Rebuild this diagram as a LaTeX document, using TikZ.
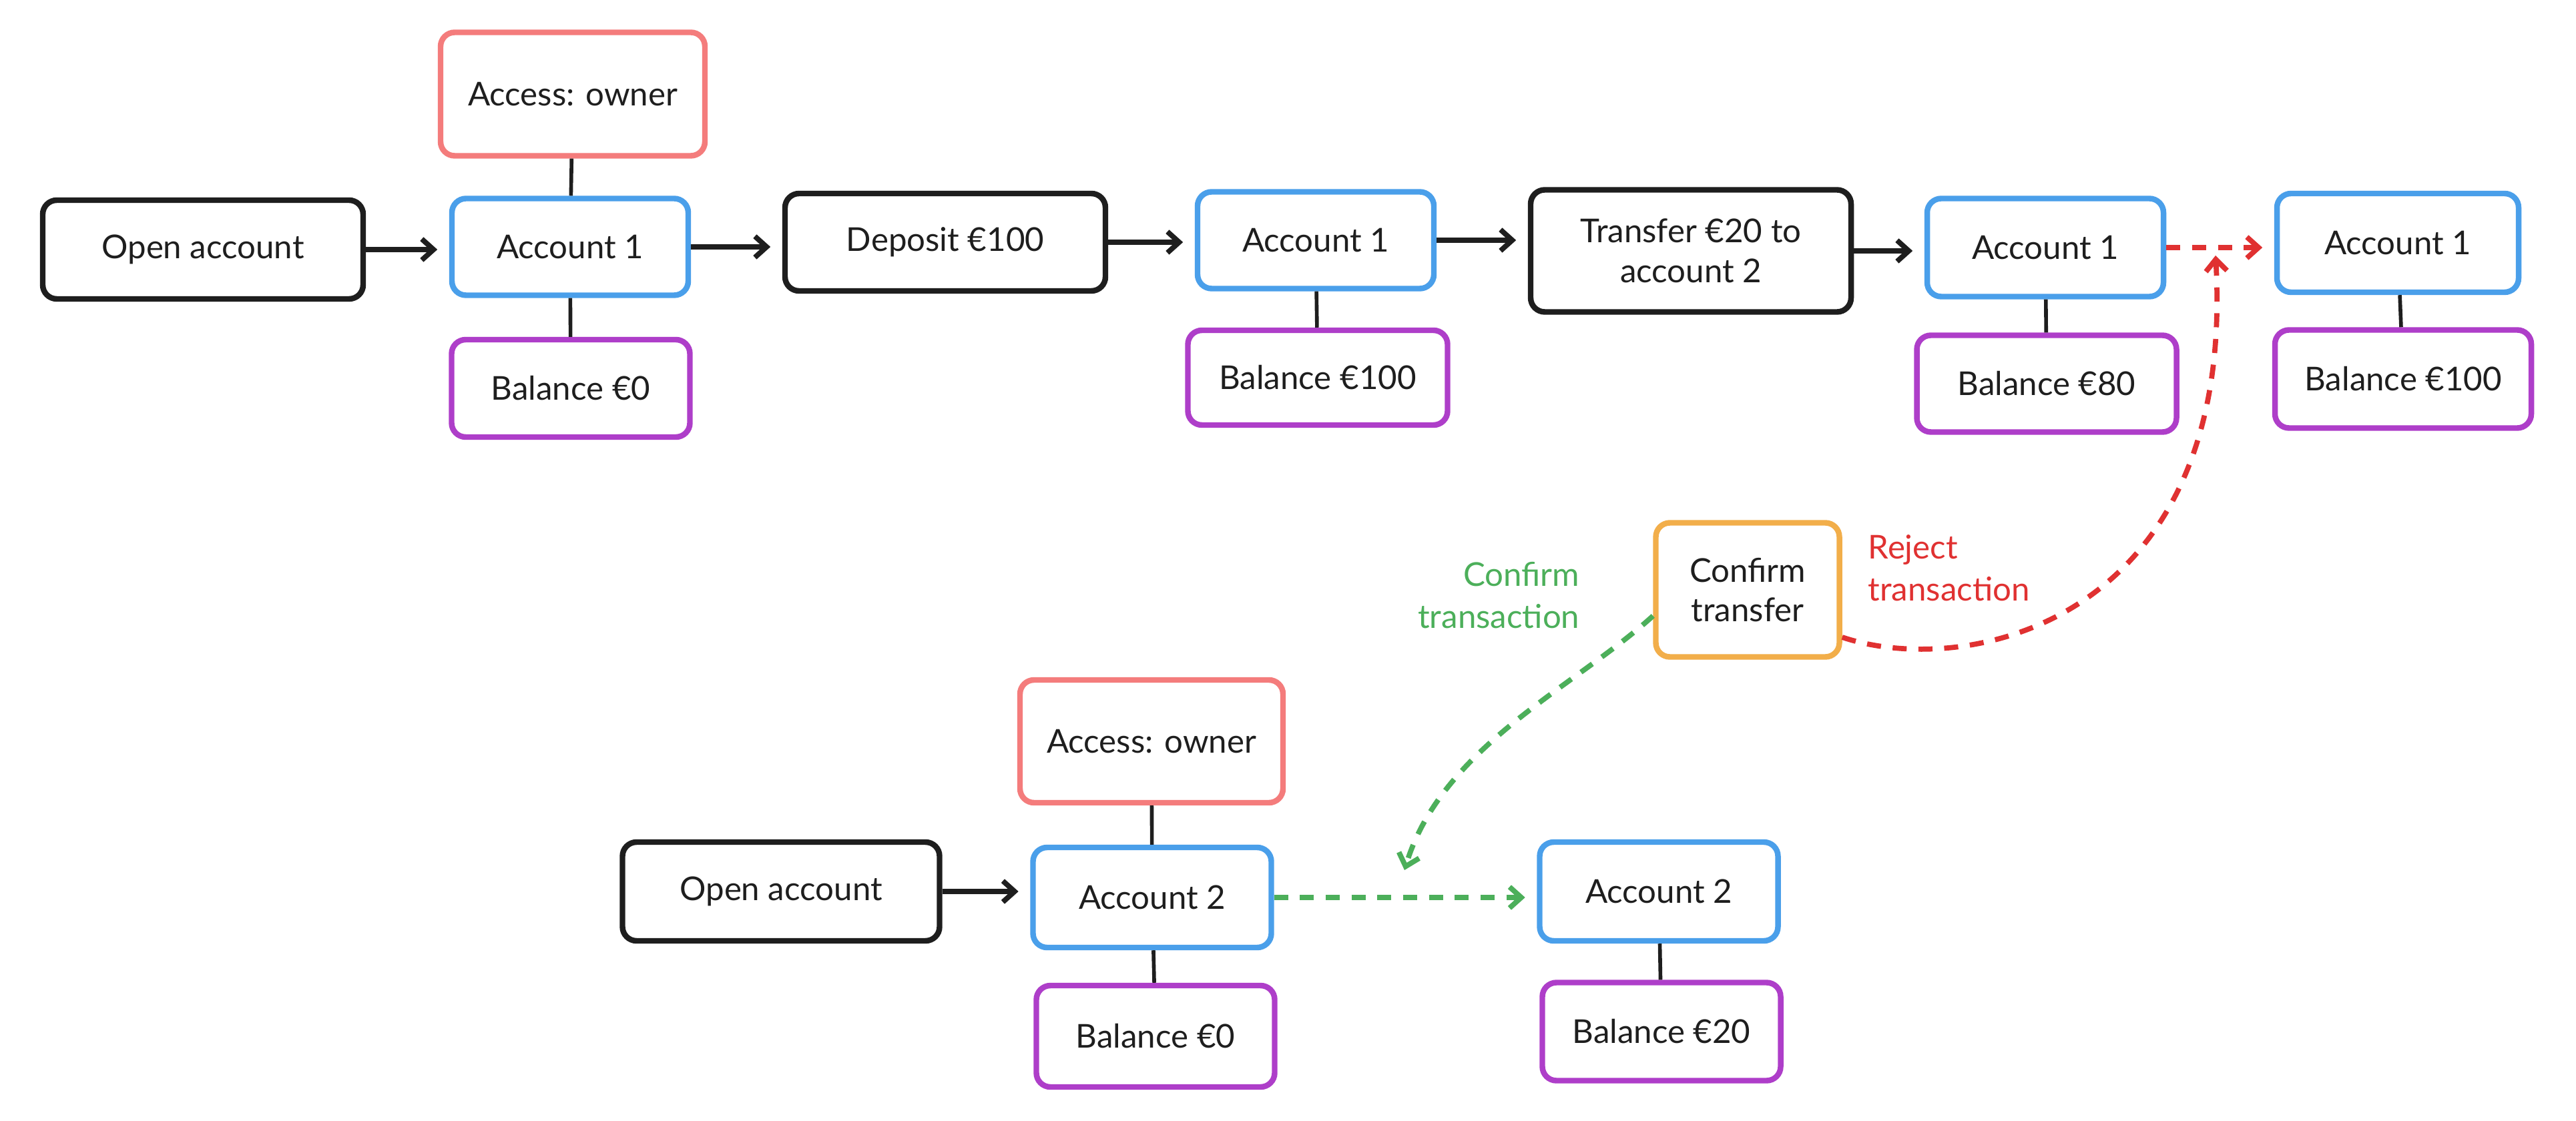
\documentclass[tikz,border=0pt]{standalone}
\usepackage{fontspec}
\setmainfont{Lato}
\usetikzlibrary{arrows.meta,calc}
\definecolor{ink}{HTML}{1E1E1E}
\definecolor{bblue}{HTML}{4A9FEA}
\definecolor{bred}{HTML}{F47C7C}
\definecolor{bpurple}{HTML}{AE3EC9}
\definecolor{borange}{HTML}{F2AE4A}
\definecolor{lgreen}{HTML}{4CAF5A}
\definecolor{lred}{HTML}{E03131}
\tikzset{
  box/.style={draw, line width=2.4pt, rounded corners=6pt, fill=white, text=ink,
    align=center, inner sep=2pt, font=\fontsize{14}{17}\selectfont},
  blackbox/.style={box, draw=ink},
  bluebox/.style={box, draw=bblue},
  redbox/.style={box, draw=bred},
  purplebox/.style={box, draw=bpurple},
  orangebox/.style={box, draw=borange},
  arr/.style={draw=ink, line width=2.2pt, -{Straight Barb[length=5pt,width=9pt]}, shorten >=5pt},
  link/.style={draw=ink, line width=1.6pt},
  greenarr/.style={draw=lgreen, line width=2.2pt, dash pattern=on 6pt off 5pt,
    -{Straight Barb[length=5pt,width=9pt]}},
  redarr/.style={draw=lred, line width=2.2pt, dash pattern=on 6pt off 5pt,
    -{Straight Barb[length=5pt,width=9pt]}},
  lbl/.style={font=\fontsize{14}{18}\selectfont, inner sep=0pt}
}
\begin{document}
\begin{tikzpicture}[x=1cm,y=1cm]
\useasboundingbox (0,0) rectangle (38.59,16.79);
\fill[white] (0,0) rectangle (38.59,16.79);

% top row
\node[blackbox, minimum width=4.80cm, minimum height=1.48cm] (open1) at (3.04,13.05) {Open account};
\node[redbox, minimum width=3.96cm, minimum height=1.85cm] (own1) at (8.58,15.38) {Access: owner};
\node[bluebox, minimum width=3.54cm, minimum height=1.45cm] (a1) at (8.54,13.09) {Account 1};
\node[purplebox, minimum width=3.57cm, minimum height=1.46cm] (b1) at (8.55,10.97) {Balance €0};
\node[blackbox, minimum width=4.80cm, minimum height=1.46cm] (dep) at (14.16,13.16) {Deposit €100};
\node[bluebox, minimum width=3.54cm, minimum height=1.45cm] (a2) at (19.71,13.19) {Account 1};
\node[purplebox, minimum width=3.89cm, minimum height=1.42cm] (b2) at (19.74,11.13) {Balance €100};
\node[blackbox, minimum width=4.80cm, minimum height=1.83cm] (tr) at (25.33,13.03) {Transfer €20 to\\account 2};
\node[bluebox, minimum width=3.54cm, minimum height=1.47cm] (a3) at (30.64,13.08) {Account 1};
\node[purplebox, minimum width=3.89cm, minimum height=1.45cm] (b3) at (30.66,11.04) {Balance €80};
\node[bluebox, minimum width=3.62cm, minimum height=1.48cm] (a4) at (35.92,13.15) {Account 1};
\node[purplebox, minimum width=3.84cm, minimum height=1.47cm] (b4) at (36.00,11.11) {Balance €100};

% decision
\node[orangebox, minimum width=2.75cm, minimum height=2.01cm] (ct) at (26.18,7.95) {Confirm\\transfer};
\node[lbl, text=lgreen, anchor=east, align=right] (lconf) at (23.67,7.87) {Confirm\\transaction};
\node[lbl, text=lred, anchor=west, align=left] (lrej) at (27.98,8.28) {Reject\\transaction};

% bottom row
\node[blackbox, minimum width=4.75cm, minimum height=1.48cm] (open2) at (11.70,3.43) {Open account};
\node[redbox, minimum width=3.94cm, minimum height=1.84cm] (own2) at (17.25,5.68) {Access: owner};
\node[bluebox, minimum width=3.57cm, minimum height=1.50cm] (c1) at (17.26,3.34) {Account 2};
\node[purplebox, minimum width=3.57cm, minimum height=1.52cm] (d1) at (17.31,1.26) {Balance €0};
\node[bluebox, minimum width=3.57cm, minimum height=1.48cm] (c2) at (24.85,3.43) {Account 2};
\node[purplebox, minimum width=3.57cm, minimum height=1.47cm] (d2) at (24.89,1.33) {Balance €20};

\coordinate (rejtip) at (33.19,12.96);
\coordinate (conftip) at (21.04,3.75);

% links
\draw[link] (own1) -- (a1);
\draw[link] (a1) -- (b1);
\draw[link] (a2) -- (b2);
\draw[link] (a3) -- (b3);
\draw[link] (a4) -- (b4);
\draw[link] (own2) -- (c1);
\draw[link] (c1) -- (d1);
\draw[link] (c2) -- (d2);

% arrows
\draw[arr] (open1.east) -- (open1.east -| a1.west);
\draw[arr] (a1.east) -- (a1.east -| dep.west);
\draw[arr] (dep.east) -- (dep.east -| a2.west);
\draw[arr] (a2.east) -- (a2.east -| tr.west);
\draw[arr] (tr.east) -- (tr.east -| a3.west);
\draw[arr] (open2.east) -- (open2.east -| c1.west);
\draw[redarr, shorten >=5pt] (a3.east) -- (a3.east -| a4.west);
\draw[greenarr, shorten >=5pt] (c1.east) -- (c1.east -| c2.west);

\draw[redarr] ([yshift=-0.71cm]ct.east) .. controls (29.5,6.6) and (33.5,7.5) .. (rejtip);
\draw[greenarr] ([yshift=-0.39cm]ct.west) .. controls (23.6,6.5) and (21.6,5.6) .. (conftip);
\end{tikzpicture}
\end{document}
